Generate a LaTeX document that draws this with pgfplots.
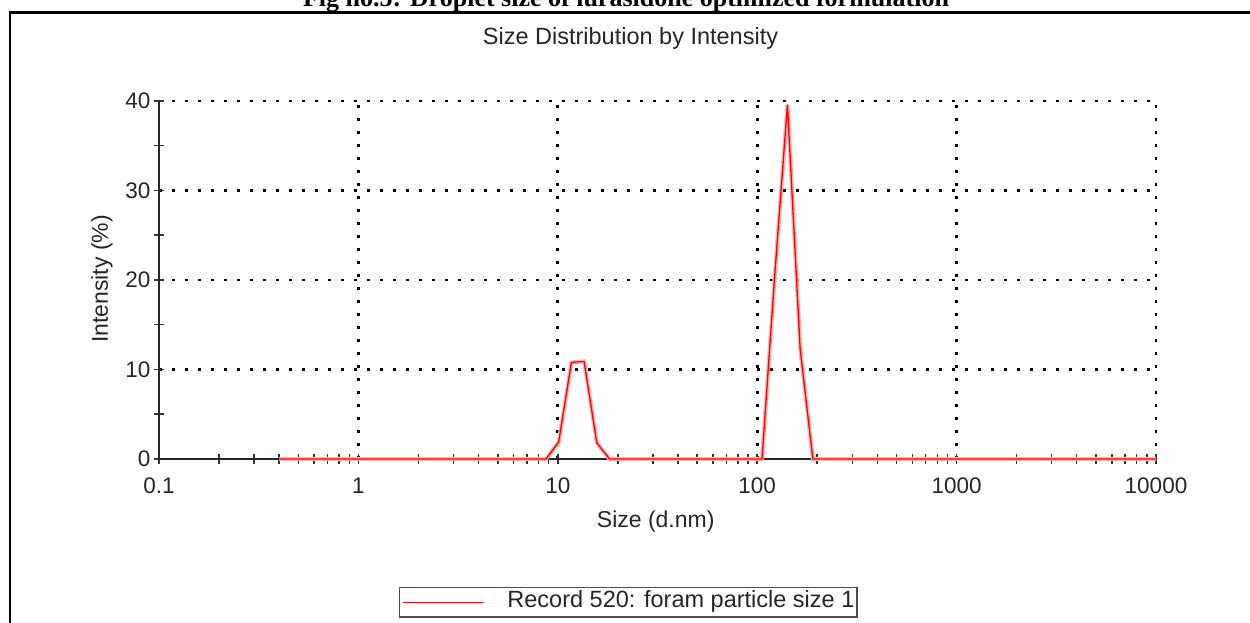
\documentclass[border=0pt]{standalone}
\usepackage{fontspec}
\setmainfont{Liberation Sans}
\newfontfamily\captionserif{Liberation Serif}
\usepackage{pgfplots}
\pgfplotsset{compat=1.18}

% Intensity distribution, one value per size class (d.nm)
\pgfplotstableread{
size intensity
0.4 0
0.4632 0
0.5365 0
0.6213 0
0.7195 0
0.8332 0
0.9649 0
1.117 0
1.294 0
1.499 0
1.736 0
2.01 0
2.328 0
2.696 0
3.122 0
3.615 0
4.187 0
4.849 0
5.615 0
6.503 0
7.531 0
8.721 0
10.1 1.9
11.7 10.8
13.54 10.9
15.69 1.8
18.17 0
21.04 0
24.36 0
28.21 0
32.67 0
37.84 0
43.82 0
50.75 0
58.77 0
68.06 0
78.82 0
91.28 0
105.7 0
122.4 20.5
141.8 39.6
164.2 12.3
190.1 0
220.2 0
255.0 0
295.3 0
342.0 0
396.1 0
458.7 0
531.2 0
615.1 0
712.4 0
825.0 0
955.4 0
1106 0
1281 0
1484 0
1718 0
1990 0
2305 0
2669 0
3091 0
3580 0
4145 0
4801 0
5560 0
6439 0
7456 0
8635 0
10000 0
}\sizedist

\begin{document}
\begin{tikzpicture}[x=1pt,y=1pt]
\useasboundingbox (0pt,0pt) rectangle (1250pt,623pt);
\fill[white] (0pt,0pt) rectangle (1250pt,623pt);

% figure caption above the frame
\node[anchor=base, inner sep=0pt, font=\fontsize{26}{30}\selectfont\captionserif\bfseries]
  at (626pt,616pt) {Fig no.5: Droplet size of lurasidone optimized formulation};

% frame round the instrument report
\draw[line width=2.5pt, black] (10pt,-10pt) -- (10pt,610.5pt) -- (1260pt,610.5pt);

% report heading
\node[anchor=base, inner sep=0pt, font=\fontsize{23.5}{27}\selectfont, text=black!85]
  at (630.5pt,578pt) {Size Distribution by Intensity};

\begin{axis}[
  at={(159pt,164pt)}, anchor=south west,
  scale only axis, width=997pt, height=358pt,
  xmode=log, xmin=0.1, xmax=10000, ymin=0, ymax=40,
  axis lines*=left,
  axis line style={line width=2pt, black!85},
  clip=false,
  xtick={0.1,1,10,100,1000,10000},
  xticklabels={0.1,1,10,100,1000,10000},
  minor xtick={0.2,0.3,0.4,0.5,0.6,0.7,0.8,0.9,
               2,3,4,5,6,7,8,9,
               20,30,40,50,60,70,80,90,
               200,300,400,500,600,700,800,900,
               2000,3000,4000,5000,6000,7000,8000,9000},
  ytick={0,10,20,30,40},
  yticklabels={0,10,20,30,40},
  minor ytick={5,15,25,35},
  tick align=center,
  major tick length=10pt, minor tick length=10pt,
  every tick/.style={black!80, line width=1.5pt},
  grid=major,
  major grid style={line width=2.8pt, black, dash pattern=on 2.8pt off 10.2pt},
  tick label style={font=\fontsize{22.5}{26}\selectfont, text=black!85},
  xticklabel style={yshift=-10pt},
  /pgf/number format/assume math mode=true,
  xlabel={Size (d.nm)},
  ylabel={Intensity (\%)},
  label style={font=\fontsize{23}{27}\selectfont, text=black!85},
  xlabel style={at={(axis description cs:0.4982,0)}, anchor=base, yshift=-69pt},
  ylabel style={at={(axis description cs:-0.0512,0.5028)}, anchor=base},
  legend style={at={(axis description cs:0.2407,-0.3575)}, anchor=north west,
    draw=black!70, line width=1.3pt, inner xsep=2.5pt, inner ysep=3pt,
    font=\fontsize{23.5}{27}\selectfont, text=black!85,
    nodes={inner sep=0pt, text height=17pt, text depth=6.5pt}},
  legend cell align=left,
  legend image code/.code={
    \draw[red, line width=1.3pt] (0pt,0pt) -- (80pt,0pt);
    \path (104pt,0pt);},
]
\addplot[red!30, line width=4pt, forget plot] table[x=size, y=intensity] {\sizedist};
\addplot[red, line width=1.3pt] table[x=size, y=intensity] {\sizedist};
\addlegendentry{Record 520: foram particle size 1}
\end{axis}
\end{tikzpicture}
\end{document}
